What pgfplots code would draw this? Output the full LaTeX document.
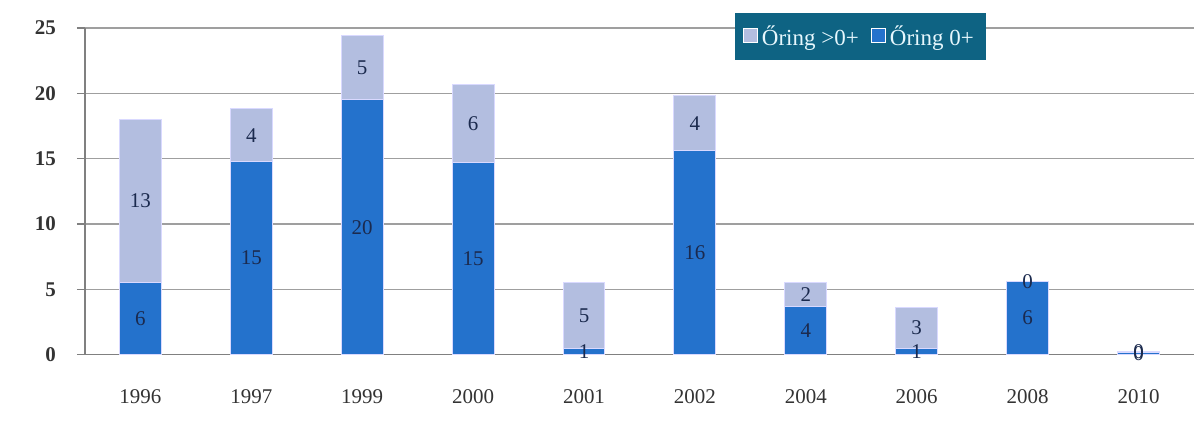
\documentclass[border=0pt]{standalone}
\usepackage{fontspec}
\setmainfont{Liberation Serif}
\usepackage{pgfplots}
\usepackage{pgfplotstable}
\pgfplotsset{compat=1.18}
\definecolor{darkbar}{HTML}{2472CC}
\definecolor{lightbar}{HTML}{B3BEE0}
\definecolor{legbg}{HTML}{0E6383}
\definecolor{txt}{HTML}{333333}
\definecolor{lbl}{HTML}{1B2A4E}
\pgfplotstableread{
x y0 y1 l0 l1
0 5.5 12.5 6 13
1 14.8 4.0 15 4
2 19.5 4.9 20 5
3 14.7 6.0 15 6
4 0.5 5.0 1 5
5 15.6 4.2 16 4
6 3.7 1.8 4 2
7 0.5 3.1 1 3
8 5.6 0.01 6 0
9 0.2 0.01 0 0
}\datatable
\begin{document}
\begin{tikzpicture}
\useasboundingbox (-42.5pt,-38.5pt) rectangle (555.5pt,177.5pt);
\begin{axis}[
  scale only axis, width=555pt, height=163.5pt,
  anchor=south west, at={(0pt,0pt)},
  ybar stacked, bar width=21pt,
  xmin=-0.5, xmax=9.5, ymin=0, ymax=25,
  xtick=data,
  xticklabels={1996,1997,1999,2000,2001,2002,2004,2006,2008,2010},
  ytick={0,5,...,25},
  /pgf/number format/assume math mode=true,
  axis lines*=left,
  axis line style={gray, line width=0.8pt},
  ymajorgrids, grid style={gray!75, line width=0.8pt},
  xtick style={draw=none},
  ytick style={gray, line width=0.8pt},
  tick align=outside, major tick length=4pt,
  ticklabel style={font=\fontsize{10.5}{12}\selectfont, text=txt},
  yticklabel style={xshift=-7pt, font=\fontsize{10.5}{12}\selectfont\bfseries},
  xticklabel style={yshift=-10pt},
  clip=false,
  legend style={at={(axis description cs:0.5856,1.046)}, anchor=north west,
    fill=legbg, draw=none, text=white!90!cyan, font=\fontsize{11.5}{14}\selectfont,
    legend columns=2, inner sep=4pt,
    /tikz/every even column/.append style={column sep=4pt}},
  reverse legend,
  legend image code/.code={\draw[#1, draw=white, line width=0.6pt] (0pt,-3pt) rectangle (7pt,4pt);},
  nodes near coords,
  point meta=explicit symbolic,
  nodes near coords style={anchor=center, text=lbl, font=\fontsize{10.5}{12}\selectfont},
]
\addplot[draw=white!85!blue, line width=0.5pt, fill=darkbar]
  table[x=x, y=y0, meta=l0] {\datatable};
\addlegendentry{Őring 0+}
\addplot[draw=white!85!blue, line width=0.5pt, fill=lightbar]
  table[x=x, y=y1, meta=l1] {\datatable};
\addlegendentry{Őring >0+}
\end{axis}
\end{tikzpicture}
\end{document}
